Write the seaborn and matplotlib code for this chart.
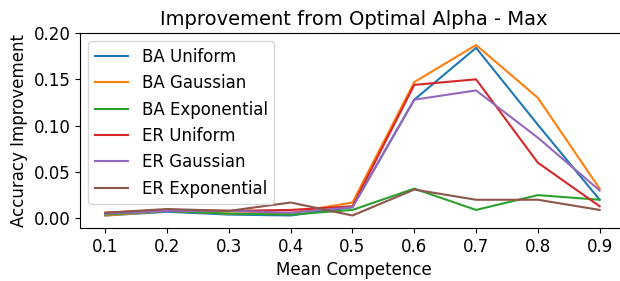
import numpy as np
import pandas as pd
import matplotlib
matplotlib.use("Agg")
import matplotlib.pyplot as plt
import seaborn as sns

# values
competence = [0.1, 0.2, 0.3, 0.4, 0.5, 0.6, 0.7, 0.8, 0.9]
ba_uniform = [0.003, 0.007, 0.004, 0.003, 0.012, 0.128, 0.184, 0.101, 0.020]
ba_gaussian = [0.003, 0.008, 0.005, 0.006, 0.017, 0.147, 0.187, 0.130, 0.032]
ba_exponential = [0.004, 0.008, 0.005, 0.004, 0.009, 0.032, 0.009, 0.025, 0.020]
er_uniform = [0.006, 0.009, 0.008, 0.009, 0.013, 0.144, 0.150, 0.060, 0.013]
er_gaussian = [0.005, 0.008, 0.008, 0.006, 0.012, 0.128, 0.138, 0.087, 0.030]
er_exponential = [0.006, 0.010, 0.008, 0.017, 0.003, 0.031, 0.020, 0.020, 0.009]

series_names = ["BA Uniform", "BA Gaussian", "BA Exponential",
                "ER Uniform", "ER Gaussian", "ER Exponential"]
series_values = [ba_uniform, ba_gaussian, ba_exponential,
                 er_uniform, er_gaussian, er_exponential]

# long format for seaborn
rows = []
for name, vals in zip(series_names, series_values):
    for x, y in zip(competence, vals):
        rows.append({"Mean Competence": x, "Accuracy Improvement": y, "Series": name})
df = pd.DataFrame(rows)

fig = plt.figure(figsize=(6.2, 2.81), dpi=100)
# right edge of the axes runs just past the canvas, as in the reference
ax = fig.add_axes([0.129, 0.1886, 0.884, 0.694])

sns.lineplot(data=df, x="Mean Competence", y="Accuracy Improvement", hue="Series",
             hue_order=series_names, palette="tab10", linewidth=1.5, ax=ax)

ax.set_xlim(0.059, 0.946)
ax.set_ylim(-0.0105, 0.2)
ax.set_xticks(competence)
ax.set_xticklabels([f"{c:.1f}" for c in competence])
ax.set_yticks([0.0, 0.05, 0.10, 0.15, 0.20])
ax.tick_params(labelsize=12)
ax.set_xlabel("Mean Competence", fontsize=12)
ax.set_ylabel("Accuracy Improvement", fontsize=12)
ax.set_title("Improvement from Optimal Alpha - Max", fontsize=14)

handles, labels = ax.get_legend_handles_labels()
ax.legend(handles, labels, loc="upper left", fontsize=12)

fig.savefig("out.png", dpi=100)
